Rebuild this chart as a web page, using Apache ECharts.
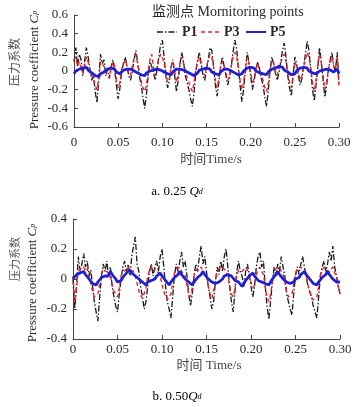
<!DOCTYPE html>
<html><head><meta charset="utf-8">
<script src="https://cdn.jsdelivr.net/npm/echarts@6/dist/echarts.min.js"></script>
<style>html,body{margin:0;padding:0;background:#fff}#c{width:361px;height:407px}</style>
</head><body><div id="c"></div>
<script>
const timeStep = 0.002;
const seriesNames = ['P1', 'P3', 'P5'];
const xTickLabels = ['0', '0.05', '0.10', '0.15', '0.20', '0.25', '0.30'];
const yTickLabelsA = ['-0.6', '-0.4', '-0.2', '0', '0.2', '0.4', '0.6'];
const yTickLabelsB = ['-0.4', '-0.2', '0', '0.2', '0.4'];

// (a) 0.25 Qd
const a_P1 = [0.10,0.25,0.05,0.18,0.12,-0.05,0.10,0.25,0.15,0.02,-0.10,-0.05,-0.22,-0.34,-0.10,0.18,0.08,0.12,-0.05,0.02,
-0.08,0.05,0.12,0.02,-0.15,-0.30,-0.18,0.00,0.08,0.15,0.05,-0.05,-0.10,0.00,0.12,0.22,0.10,-0.05,-0.15,-0.28,
-0.40,-0.25,-0.05,0.10,0.05,-0.02,-0.10,0.02,0.15,0.28,0.33,0.15,-0.05,-0.18,-0.10,0.05,0.12,-0.05,-0.22,-0.10,
0.08,0.20,0.10,-0.05,-0.12,-0.20,-0.30,-0.38,-0.22,0.00,0.12,0.20,0.08,-0.05,-0.10,0.02,0.12,0.25,0.22,0.05,
-0.15,-0.27,-0.12,0.05,0.15,0.05,-0.05,-0.15,-0.08,0.05,0.20,0.33,0.25,0.05,-0.15,-0.33,-0.20,0.00,0.20,0.10,
-0.05,-0.20,-0.10,0.02,0.10,0.02,-0.08,-0.15,-0.28,-0.38,-0.20,0.00,0.15,0.08,-0.02,-0.10,-0.02,0.10,0.22,0.30,
0.15,-0.05,-0.18,-0.27,-0.05,0.15,0.08,-0.05,-0.15,-0.08,0.05,0.18,0.32,0.22,0.02,-0.20,-0.32,-0.15,0.05,0.25,
0.10,-0.10,-0.28,-0.15,0.02,0.12,0.20,0.05,0.00,0.20,-0.15];
const a_P3 = [0.12,0.15,0.05,0.10,0.08,-0.02,0.05,0.15,0.10,0.00,-0.05,-0.08,-0.15,-0.20,-0.08,0.10,0.08,0.05,-0.02,0.00,
-0.08,0.02,0.10,0.05,-0.10,-0.18,-0.12,0.02,0.08,0.12,0.05,-0.02,-0.05,0.05,0.15,0.18,0.08,-0.02,-0.10,-0.18,
-0.22,-0.15,0.00,0.12,0.18,0.05,-0.05,0.05,0.12,0.18,0.15,0.08,-0.02,-0.12,-0.08,0.05,0.10,0.00,-0.12,-0.05,
0.08,0.15,0.08,0.00,-0.08,-0.12,-0.18,-0.22,-0.12,0.02,0.10,0.15,0.05,-0.02,-0.05,0.05,0.12,0.18,0.15,0.05,
-0.10,-0.18,-0.08,0.05,0.10,0.05,-0.02,-0.10,-0.05,0.05,0.15,0.20,0.15,0.05,-0.10,-0.20,-0.12,0.02,0.15,0.08,
-0.02,-0.12,-0.08,0.02,0.08,0.02,-0.05,-0.10,-0.18,-0.22,-0.12,0.02,0.12,0.08,0.00,-0.05,0.02,0.08,0.15,0.18,
0.10,-0.02,-0.12,-0.18,-0.05,0.10,0.05,-0.02,-0.10,-0.05,0.05,0.12,0.20,0.15,0.02,-0.12,-0.22,-0.10,0.05,0.18,
0.08,-0.05,-0.20,-0.12,0.02,0.10,0.15,0.05,0.02,0.15,-0.18];
const a_P5 = [-0.03,0.00,-0.02,0.02,0.01,0.03,0.02,0.04,0.01,0.02,-0.02,-0.01,-0.05,-0.04,-0.06,-0.03,-0.04,-0.01,0.00,0.02,
0.01,0.03,0.01,0.02,-0.01,0.00,-0.03,-0.01,0.01,0.03,0.02,0.04,0.02,0.03,0.00,0.01,-0.02,-0.01,-0.04,-0.03,
-0.05,-0.02,-0.03,0.00,0.02,0.01,0.03,0.02,0.04,0.01,0.02,-0.01,0.00,-0.03,-0.02,-0.04,-0.01,0.01,0.02,0.04,
0.02,0.03,0.01,0.02,-0.01,0.00,-0.03,-0.02,-0.05,-0.03,-0.02,0.01,0.00,0.02,0.01,0.03,0.01,0.02,-0.01,0.00,
-0.03,-0.02,-0.04,-0.01,0.01,0.02,0.04,0.02,0.03,0.00,0.01,-0.02,-0.01,-0.04,-0.02,-0.03,0.00,0.01,0.03,0.02,
0.04,0.02,0.03,0.00,0.01,-0.02,-0.01,-0.03,-0.02,-0.04,-0.01,0.00,0.02,0.01,0.03,0.02,0.05,0.03,0.04,0.01,
0.02,-0.01,-0.02,-0.04,-0.02,-0.03,0.00,0.01,0.03,0.02,0.04,0.02,0.03,0.00,0.01,-0.02,-0.01,-0.03,-0.02,0.00,
0.02,0.01,0.03,0.02,0.04,0.01,0.02,-0.01,0.00,0.02,-0.03];

// (b) 0.50 Qd
const b_P1 = [0.00,-0.20,-0.05,0.15,0.05,0.10,0.17,0.08,0.12,0.02,0.06,-0.05,-0.15,-0.22,-0.28,-0.12,0.02,0.10,0.05,0.12,
0.02,0.08,-0.05,-0.12,-0.18,-0.22,-0.10,0.00,0.08,0.12,0.05,0.10,0.02,0.15,0.22,0.28,0.10,0.05,-0.05,-0.12,
-0.20,-0.15,-0.05,0.05,0.10,0.02,0.08,0.12,0.05,0.15,0.20,0.08,-0.05,-0.15,-0.20,-0.26,-0.12,0.02,0.10,0.05,
0.12,0.18,0.08,0.12,0.02,-0.10,-0.18,-0.10,0.02,0.10,0.05,0.15,0.22,0.10,0.15,0.05,-0.05,-0.12,-0.20,-0.15,
-0.02,0.08,0.03,0.12,0.05,0.15,0.20,0.08,-0.05,-0.15,-0.22,-0.08,0.05,0.12,0.05,0.02,-0.05,0.05,0.10,0.03,
-0.05,-0.12,-0.05,0.08,0.15,0.18,0.08,0.12,-0.05,-0.18,-0.27,-0.15,-0.02,0.08,0.02,0.10,0.05,0.15,0.08,0.02,
-0.10,-0.15,-0.20,-0.24,-0.10,0.02,0.08,0.03,0.10,0.15,0.08,0.02,-0.05,-0.05,-0.12,-0.18,-0.22,-0.26,-0.12,0.02,
0.08,0.12,0.05,0.10,0.18,0.12,0.22,0.08,0.02,-0.05,-0.10];
const b_P3 = [0.02,-0.15,-0.05,0.05,0.07,0.06,0.08,0.05,0.07,0.02,-0.03,-0.08,-0.12,-0.13,-0.10,-0.03,0.04,0.06,0.07,0.05,
0.06,0.02,-0.04,-0.08,-0.10,-0.12,-0.06,0.02,0.06,0.07,0.05,0.08,0.06,0.07,0.05,0.02,-0.03,-0.08,-0.11,-0.13,
-0.12,-0.06,0.02,0.06,0.08,0.05,0.07,0.06,0.04,0.02,-0.04,-0.08,-0.12,-0.14,-0.15,-0.10,-0.03,0.04,0.07,0.06,
0.08,0.05,0.06,0.02,-0.04,-0.10,-0.12,-0.06,0.02,0.06,0.07,0.06,0.08,0.05,0.06,0.02,-0.04,-0.10,-0.13,-0.08,
-0.02,0.05,0.07,0.06,0.08,0.07,0.05,0.02,-0.05,-0.10,-0.12,-0.06,0.02,0.06,0.07,0.05,0.06,0.08,0.06,0.03,
-0.02,-0.06,-0.04,0.03,0.06,0.08,0.05,0.03,-0.05,-0.12,-0.15,-0.10,-0.02,0.05,0.07,0.06,0.08,0.05,0.03,-0.02,
-0.08,-0.12,-0.13,-0.10,-0.03,0.04,0.07,0.06,0.08,0.06,0.04,0.02,-0.04,-0.08,-0.12,-0.14,-0.15,-0.12,-0.05,0.03,
0.06,0.08,0.06,0.07,0.05,0.06,0.08,0.04,0.02,-0.05,-0.10];
const b_P5 = [0.00,0.01,0.03,0.02,0.04,0.03,0.05,0.03,0.02,0.00,-0.01,-0.03,-0.02,-0.04,-0.02,-0.01,0.01,0.00,0.02,0.03,
0.02,0.05,0.03,0.02,0.00,-0.02,-0.03,-0.01,0.01,0.02,0.04,0.03,0.06,0.04,0.05,0.02,0.03,0.00,0.01,-0.02,
-0.01,-0.04,-0.02,-0.03,-0.01,-0.02,0.00,0.02,0.01,0.04,0.02,0.01,-0.01,-0.02,-0.04,-0.02,-0.01,0.01,0.02,0.03,
0.05,0.03,0.02,0.00,0.01,-0.02,-0.01,-0.04,-0.02,-0.01,0.01,0.02,0.03,0.05,0.03,0.02,0.00,-0.01,-0.02,-0.01,
-0.03,-0.04,-0.02,-0.01,0.00,0.02,0.01,0.03,0.04,0.02,0.01,-0.01,0.00,-0.02,-0.03,-0.05,-0.03,-0.01,0.00,0.02,
0.01,0.04,0.02,0.01,-0.01,0.00,-0.02,-0.01,-0.03,-0.02,-0.04,-0.02,0.00,0.01,0.03,0.05,0.03,0.02,0.00,-0.01,
-0.02,-0.01,-0.03,-0.04,-0.02,0.00,-0.01,0.01,0.03,0.02,0.05,0.03,0.02,0.00,-0.01,-0.03,-0.02,-0.04,-0.02,-0.01,
0.01,0.02,0.03,0.05,0.03,0.02,0.00,0.01,-0.02,-0.01,-0.02];

const pair = arr => arr.map((v, i) => [+(i * timeStep).toFixed(4), v]);

const serif = '"Liberation Serif","Noto Sans CJK SC",serif';
const txt = '#2a2a2a';
const styles = [
  {color: '#1a1a1a', width: 1.3, type: [6, 2, 1.5, 2]},
  {color: '#e3262b', width: 1.4, type: [4, 3]},
  {color: '#1f1fd6', width: 2.8, type: 'solid'}
];

function xAxisCfg(gi, margin) {
  return {
    type: 'value', gridIndex: gi, min: 0, max: 0.3, interval: 0.05,
    axisLine: {onZero: false, lineStyle: {color: '#444', width: 1}},
    axisTick: {inside: true, length: 4, lineStyle: {color: '#444'}},
    splitLine: {show: false},
    axisLabel: {margin: margin, color: txt, fontFamily: serif, fontSize: 13,
      formatter: v => xTickLabels[Math.round(v / 0.05)]}
  };
}
function yAxisCfg(gi, min, max, labels) {
  return {
    type: 'value', gridIndex: gi, min: min, max: max, interval: 0.2,
    axisLine: {show: true, lineStyle: {color: '#444', width: 1}},
    axisTick: {show: true, inside: true, length: 4, lineStyle: {color: '#444'}},
    splitLine: {show: false},
    axisLabel: {margin: 6, color: txt, fontFamily: serif, fontSize: 13,
      formatter: v => labels[Math.round((v - min) / 0.2)]}
  };
}
function mkSeries(name, arr, idx, gi) {
  return {
    name: name, type: 'line', xAxisIndex: gi, yAxisIndex: gi,
    data: pair(arr), symbol: 'none', showSymbol: false, smooth: false, animation: false,
    lineStyle: styles[idx], itemStyle: {color: styles[idx].color}, z: 2 + idx
  };
}

// hand-drawn legend (line sample + label), positioned like the reference
const legendPos = [[157, 182], [201, 224], [246, 270]];
const legendGraphics = [];
seriesNames.forEach((n, k) => {
  const [lx, tx] = legendPos[k];
  legendGraphics.push({type: 'line', shape: {x1: lx, y1: 32, x2: lx + 20, y2: 32},
    style: {stroke: styles[k].color, lineWidth: k === 2 ? 2 : 1.3, lineDash: Array.isArray(styles[k].type) ? styles[k].type : null}});
  legendGraphics.push({type: 'text', x: tx, y: 32, style: {text: n, font: 'bold 14px ' + serif, fill: txt, verticalAlign: 'middle'}});
});

const chart = echarts.init(document.getElementById('c'), null, {renderer: 'canvas'});
chart.setOption({
  backgroundColor: '#fff',
  animation: false,
  grid: [
    {left: 74, top: 15, width: 265, height: 112},
    {left: 73, top: 219, width: 267, height: 120}
  ],
  xAxis: [xAxisCfg(0, 9), xAxisCfg(1, 4)],
  yAxis: [yAxisCfg(0, -0.6, 0.6, yTickLabelsA), yAxisCfg(1, -0.4, 0.4, yTickLabelsB)],
  series: [
    mkSeries('P1', a_P1, 0, 0), mkSeries('P3', a_P3, 1, 0), mkSeries('P5', a_P5, 2, 0),
    mkSeries('P1', b_P1, 0, 1), mkSeries('P3', b_P3, 1, 1), mkSeries('P5', b_P5, 2, 1)
  ],
  graphic: legendGraphics.concat([
    {type: 'text', left: 152, top: 5, style: {text: '监测点 Mornitoring points', font: '14px ' + serif, fill: txt}},
    {type: 'text', x: 14, y: 62, rotation: Math.PI / 2, style: {text: '压力系数', font: '12px "Noto Sans CJK SC"', fill: '#555', align: 'center', verticalAlign: 'middle'}},
    {type: 'text', x: 35, y: 70, rotation: Math.PI / 2, style: {
      text: '{a|Pressure coefficient }{i|C}{s|p}', align: 'center', verticalAlign: 'middle',
      rich: {a: {font: '13px ' + serif, fill: txt}, i: {font: 'italic 13px ' + serif, fill: txt}, s: {font: 'italic 8px ' + serif, fill: txt}}}},
    {type: 'text', x: 211, y: 160, style: {text: '时间Time/s', font: '13px ' + serif, fill: '#444', align: 'center', verticalAlign: 'middle'}},
    {type: 'text', x: 177, y: 192, style: {
      text: '{a|a. 0.25 }{i|Q}{s|d}', align: 'center', verticalAlign: 'middle',
      rich: {a: {font: '13px ' + serif, fill: '#000'}, i: {font: 'italic 13px ' + serif, fill: '#000'}, s: {font: 'italic 8px ' + serif, fill: '#000'}}}},
    {type: 'text', x: 15, y: 259, rotation: Math.PI / 2, style: {text: '压力系数', font: '11px "Noto Sans CJK SC"', fill: '#555', align: 'center', verticalAlign: 'middle'}},
    {type: 'text', x: 33, y: 283, rotation: Math.PI / 2, style: {
      text: '{a|Pressure coefficient }{i|C}{s|p}', align: 'center', verticalAlign: 'middle',
      rich: {a: {font: '13px ' + serif, fill: txt}, i: {font: 'italic 13px ' + serif, fill: txt}, s: {font: 'italic 8px ' + serif, fill: txt}}}},
    {type: 'text', x: 209, y: 366, style: {text: '时间 Time/s', font: '13px ' + serif, fill: '#444', align: 'center', verticalAlign: 'middle'}},
    {type: 'text', x: 177, y: 397, style: {
      text: '{a|b. 0.50}{i|Q}{s|d}', align: 'center', verticalAlign: 'middle',
      rich: {a: {font: '13px ' + serif, fill: '#000'}, i: {font: 'italic 13px ' + serif, fill: '#000'}, s: {font: 'italic 8px ' + serif, fill: '#000'}}}}
  ])
});
</script></body></html>
